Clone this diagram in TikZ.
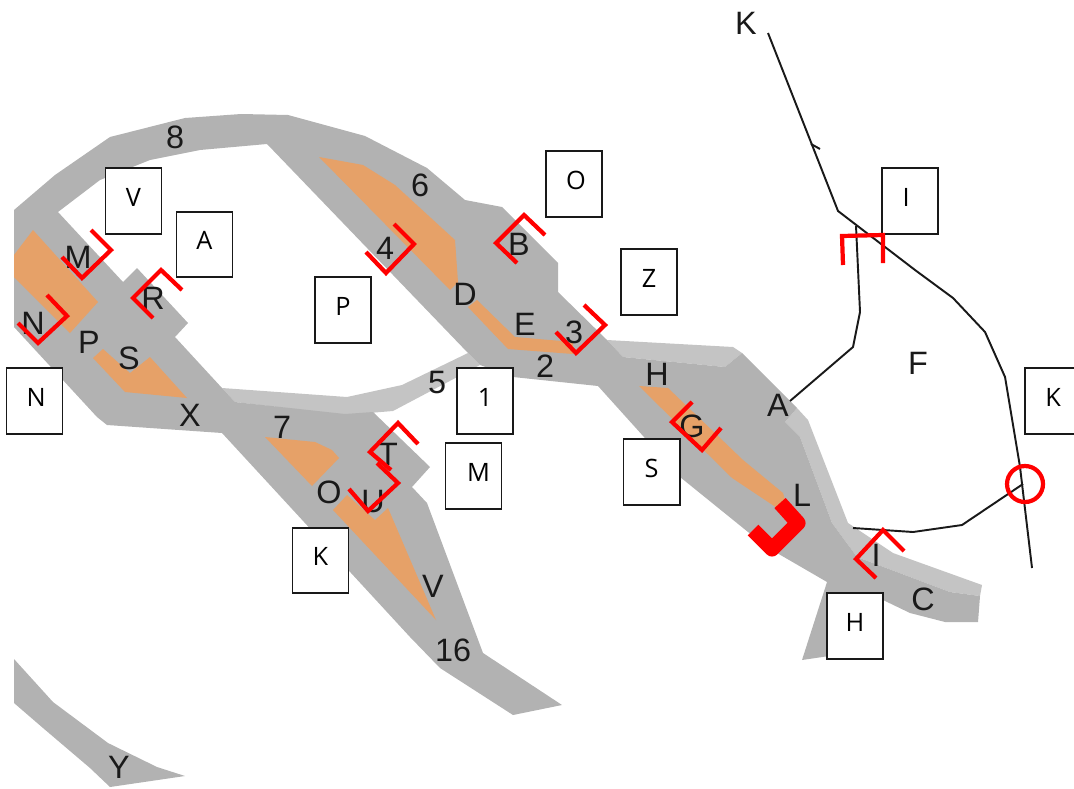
\documentclass[tikz,border=0pt]{standalone}
\usepackage{fontspec}
\setmainfont{Liberation Sans}
\newfontfamily\boxfont{Open Sans}
\definecolor{orefill}{HTML}{E6A168}
\tikzset{
	tunnel/.style={fill=black!30},
	branch/.style={fill=black!23},
	ore/.style={fill=orefill},
	wire/.style={draw=black!90,line width=0.55pt},
	cut/.style={draw=red,line width=1.2pt,line join=miter},
	heavycut/.style={draw=red,line width=4.3pt,line join=round},
	tag/.style={font=\fontsize{9.2}{10}\selectfont,text=black!90,inner sep=0pt},
	panel/.style={rectangle,draw=black!90,fill=white,line width=0.55pt,minimum width=0.56cm,minimum height=0.655cm,inner sep=0pt,text height=6pt,text depth=2.9pt,font=\boxfont\fontsize{7.2}{9}\selectfont}
}
\begin{document}
\begin{tikzpicture}[x=0.01cm,y=-0.01cm]
	\clip (0,0) rectangle (1074,788);
	\fill[branch] (607,340) -- (733,347) -- (742,353) -- (725,367) -- (623,357) -- cycle;
	\fill[branch] (222,388) -- (347,397) -- (402,385) -- (468,353) -- (480,365) -- (393,411) -- (345,415) -- (235,402) -- cycle;
	\fill[branch] (797,408) -- (808,420) -- (848,523) -- (893,553) -- (982,585) -- (980,596) -- (950,592) -- (857,557) -- (832,523) -- (800,437) -- (785,422) -- cycle;
	\fill[tunnel] (14,210) -- (55,175) -- (110,137) -- (185,118) -- (241,114) -- (288,115) -- (365,136) -- (427,168) -- (465,200) -- (502,207) -- (558,263) -- (558,292) -- (607,340) -- (623,357) -- (725,367) -- (742,353) -- (797,408) -- (785,422) -- (800,437) -- (832,523) -- (857,557) -- (950,592) -- (980,596) -- (978,622) -- (945,622) -- (910,613) -- (883,600) -- (870,650) -- (802,660) -- (827,582) -- (777,553) -- (748,532) -- (680,477) -- (598,386) -- (513,377) -- (480,365) -- (468,353) -- (267,144) -- (200,150) -- (150,160) -- (100,180) -- (58,212) -- (123,282) -- (137,268) -- (188,323) -- (175,337) -- (222,388) -- (235,402) -- (345,414) -- (373,412) -- (430,467) -- (412,487) -- (427,503) -- (483,653) -- (562,705) -- (513,715) -- (440,668) -- (410,637) -- (222,433) -- (107,425) -- (97,417) -- (14,327) -- cycle;
	\fill[tunnel] (14,659) -- (53,702) -- (108,743) -- (157,767) -- (185,776) -- (110,787) -- (90,768) -- (43,728) -- (14,703) -- cycle;
	\fill[ore] (33,230) -- (98,302) -- (70,333) -- (14,277) -- (14,255) -- cycle;
	\fill[ore] (103,349) -- (130,373) -- (150,357) -- (187,398) -- (125,392) -- (93,358) -- cycle;
	\fill[ore] (319,157) -- (363,165) -- (395,185) -- (455,240) -- (458,282) -- (450,290) -- cycle;
	\fill[ore] (477,300) -- (515,337) -- (573,342) -- (573,354) -- (508,349) -- (468,307) -- cycle;
	\fill[ore] (639,386) -- (668,388) -- (743,460) -- (783,493) -- (785,500) -- (777,508) -- (732,478) -- cycle;
	\fill[ore] (265,437) -- (315,442) -- (332,450) -- (339,458) -- (312,486) -- cycle;
	\fill[ore] (333,510) -- (347,495) -- (375,520) -- (388,508) -- (436,620) -- cycle;

	\coordinate (K1) at (768,33);
	\coordinate (K2) at (838,211);
	\coordinate (K3) at (915,270);
	\coordinate (K4) at (953,298);
	\coordinate (K5) at (985,332);
	\coordinate (K6) at (1005,377);
	\coordinate (K7) at (1020,467);
	\coordinate (K8) at (1032,568);
	\coordinate (W1) at (856,226);
	\coordinate (W2) at (860,312);
	\coordinate (W3) at (853,347);
	\coordinate (W4) at (790,401);
	\coordinate (W5) at (853,528);
	\coordinate (W6) at (913,532);
	\coordinate (W7) at (962,525);
	\coordinate (W8) at (1023,484);
	\coordinate (T1) at (811,144);
	\coordinate (T2) at (820,149);
	\draw[wire] (K1) -- (K2) -- (K3) -- (K4) -- (K5) -- (K6) -- (K7) -- (K8);
	\draw[wire] (W1) -- (W2) -- (W3) -- (W4);
	\draw[wire] (W5) -- (W6) -- (W7) -- (W8);
	\draw[wire] (T1) -- (T2);

	\node (L8) at (175,137) [tag] {8};
	\node (LM) at (78,257) [tag] {M};
	\node (LR) at (153,298) [tag] {R};
	\node (LN) at (33,323) [tag] {N};
	\node (LP) at (89,342) [tag] {P};
	\node (LS) at (129,358) [tag] {S};
	\node (LX) at (190,415) [tag] {X};
	\node (L7) at (282,427) [tag] {7};
	\node (L6) at (420,185) [tag] {6};
	\node (L4) at (385,248) [tag] {4};
	\node (LB) at (519,244) [tag] {B};
	\node (LD) at (465,294) [tag] {D};
	\node (LE) at (525,324) [tag] {E};
	\node (L3) at (574,332) [tag] {3};
	\node (L2) at (545,366) [tag] {2};
	\node (L5) at (437,383) [tag] {5};
	\node (LH) at (657,374) [tag] {H};
	\node (LG) at (692,426) [tag] {G};
	\node (LA) at (778,405) [tag] {A};
	\node (LL) at (802,495) [tag] {L};
	\node (LI) at (876,555) [tag] {I};
	\node (LC) at (923,599) [tag] {C};
	\node (LF) at (918,363) [tag] {F};
	\node (LT) at (388,454) [tag] {T};
	\node (LO) at (329,492) [tag] {O};
	\node (LU) at (373,502) [tag] {U};
	\node (LV) at (433,586) [tag] {V};
	\node (L16) at (453,650) [tag] {16};
	\node (LY) at (119,767) [tag] {Y};
	\node (LK) at (746,23) [tag] {K};

	\node (BV) at (133.5,201) [panel] {V};
	\node (BA) at (204.5,244.5) [panel] {A};
	\node (BP) at (343,310) [panel] {P};
	\node (BN) at (34.5,401) [panel] {\kern1pt N};
	\node (BO) at (574,184) [panel] {\kern1.1pt O};
	\node (BZ) at (649,282) [panel] {Z};
	\node (B1) at (485,401) [panel] {1};
	\node (BM) at (473.5,476) [panel] {\kern2.8pt M};
	\node (BS) at (651.5,472) [panel] {S};
	\node (BK) at (320.5,560.5) [panel] {K};
	\node (BH) at (855,626) [panel] {H};
	\node (BI) at (910,201) [panel] {I\kern2.2pt};
	\node (BR) at (1053,401) [panel] {K};

	\draw[cut] (91,230) -- (111,250) -- (82,278) -- (62,257);
	\draw[cut] (182,290) -- (161,270) -- (133,298) -- (153,318);
	\draw[cut] (47,295) -- (67,316) -- (38,343) -- (18,323);
	\draw[cut] (394,224) -- (414,244) -- (386,273) -- (366,252);
	\draw[cut] (545,235) -- (524,215) -- (496,243) -- (517,263);
	\draw[cut] (584,305) -- (605,325) -- (576,353) -- (556,332);
	\draw[cut] (692,402) -- (672,422) -- (702,450) -- (721,428);
	\draw[cut] (904,551) -- (883,530) -- (856,559) -- (876,578);
	\draw[cut] (418,444) -- (398,423) -- (370,452) -- (391,470);
	\draw[cut] (377,463) -- (398,483) -- (368,511) -- (349,489);
	\draw[cut] (843,265) -- (842,236) -- (883,235) -- (883,263);
	\draw[heavycut] (780,503) -- (798,523) -- (772,549) -- (753,530);
	\draw[cut] (1025,484) circle (18);
\end{tikzpicture}
\end{document}
